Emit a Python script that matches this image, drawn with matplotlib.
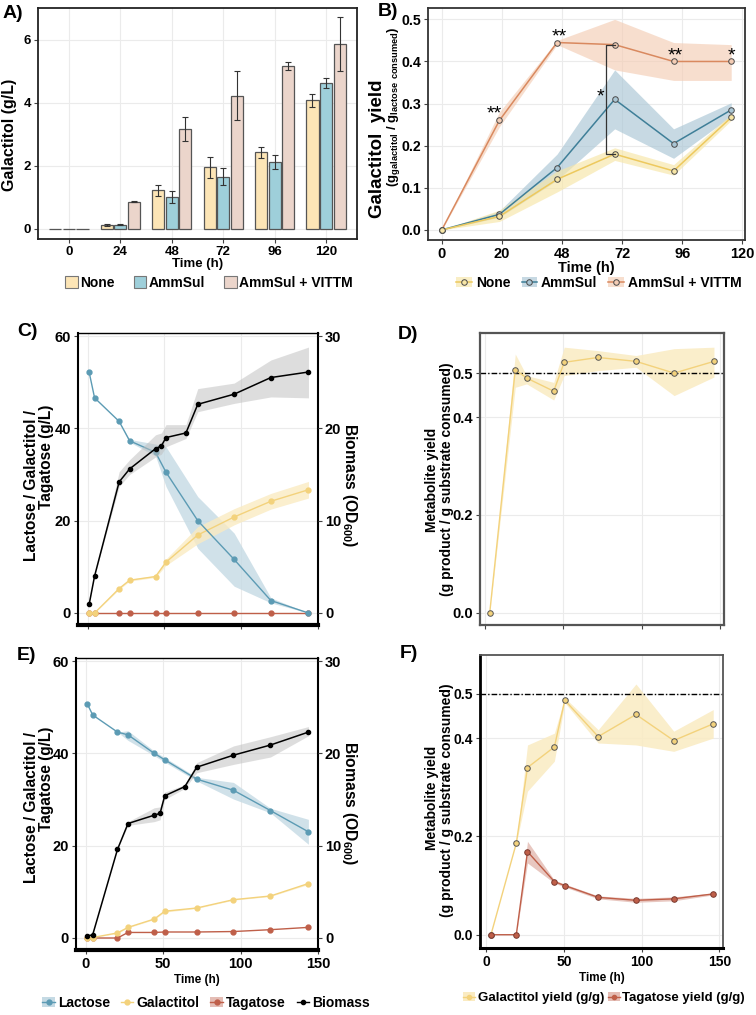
import numpy as np
import matplotlib
matplotlib.use("Agg")
import matplotlib.pyplot as plt
from matplotlib.patches import Patch
from matplotlib.lines import Line2D

plt.rcParams["font.family"] = ["Liberation Sans", "DejaVu Sans"]
plt.rcParams["font.weight"] = "bold"
plt.rcParams["axes.labelweight"] = "bold"
plt.rcParams["mathtext.fontset"] = "custom"
plt.rcParams["mathtext.rm"] = "Liberation Sans:bold"
plt.rcParams["mathtext.default"] = "rm"

# ---------------- data ----------------
# A) galactitol titre per condition
a_times = ["0", "24", "48", "72", "96", "120"]
a_none = [0, 0.12, 1.21, 1.94, 2.42, 4.07]
a_none_err = [0, 0.04, 0.16, 0.32, 0.17, 0.20]
a_amm = [0, 0.13, 1.00, 1.65, 2.11, 4.63]
a_amm_err = [0, 0.03, 0.20, 0.26, 0.22, 0.16]
a_vit = [0, 0.85, 3.17, 4.22, 5.15, 5.85]
a_vit_err = [0, 0.02, 0.38, 0.78, 0.13, 0.85]

# B) galactitol yield
b_time = [0, 23, 46, 69, 92.5, 115.5]
b_tick_pos = [0, 24, 48, 72, 96, 120]
b_tick_lab = ["0", "20", "48", "72", "96", "120"]
b_none = [0, 0.032, 0.120, 0.180, 0.140, 0.267]
b_none_lo = [0, 0.020, 0.090, 0.165, 0.130, 0.260]
b_none_hi = [0, 0.047, 0.140, 0.195, 0.155, 0.275]
b_amm = [0, 0.037, 0.148, 0.310, 0.205, 0.285]
b_amm_lo = [0, 0.030, 0.118, 0.240, 0.170, 0.270]
b_amm_hi = [0, 0.045, 0.180, 0.380, 0.240, 0.302]
b_vit = [0, 0.260, 0.445, 0.440, 0.400, 0.400]
b_vit_lo = [0, 0.245, 0.440, 0.380, 0.355, 0.355]
b_vit_hi = [0, 0.280, 0.450, 0.500, 0.445, 0.440]

# C / E) fermentation profiles
met_time = [1, 4.5, 20.5, 27.3, 44.2, 51, 71.7, 95.4, 119.3, 143.8]
bio_time = [1, 4.5, 20.5, 27.3, 44.2, 48, 51, 64, 71.7, 95.4, 119.3, 143.8]

c_lac = [52.1, 46.6, 41.5, 37.3, 34.8, 30.5, 20.0, 11.6, 2.7, 0.0]
c_lac_lo = [52.1, 46.6, 41.5, 37.0, 34.0, 27.4, 14.0, 5.8, 2.2, 0.0]
c_lac_hi = [52.1, 46.6, 41.5, 37.6, 36.6, 36.0, 25.2, 17.3, 3.3, 0.0]
c_gal = [0, 0, 5.3, 7.1, 7.9, 11.0, 16.9, 20.8, 24.2, 26.7]
c_gal_lo = [0, 0, 5.1, 6.9, 7.7, 10.3, 15.0, 19.1, 22.5, 24.9]
c_gal_hi = [0, 0, 5.5, 7.3, 8.1, 11.7, 18.7, 22.6, 25.9, 28.5]
c_tag = [0, 0, 0, 0, 0, 0, 0, 0, 0, 0]
c_bio = [0.97, 4.0, 14.2, 15.6, 17.8, 18.1, 19.0, 19.5, 22.6, 23.7, 25.5, 26.1]
c_bio_lo = [0.97, 4.0, 13.7, 15.0, 16.9, 17.2, 18.0, 18.9, 21.8, 22.7, 23.4, 23.3]
c_bio_hi = [0.97, 4.0, 15.3, 16.6, 19.3, 19.5, 20.4, 20.4, 24.3, 24.9, 27.4, 28.8]

e_lac = [50.7, 48.3, 44.6, 44.0, 40.0, 38.6, 34.4, 32.0, 27.6, 23.0]
e_lac_lo = [50.7, 48.3, 44.6, 42.8, 39.5, 38.1, 34.0, 30.1, 27.1, 20.3]
e_lac_hi = [50.7, 48.3, 44.6, 44.9, 40.5, 39.1, 34.8, 33.7, 28.1, 25.7]
e_gal = [0, 0.1, 1.1, 2.3, 4.1, 5.8, 6.5, 8.3, 9.1, 11.8]
e_gal_lo = [0, 0.1, 1.0, 2.2, 4.0, 5.6, 6.4, 8.2, 9.0, 11.6]
e_gal_hi = [0, 0.1, 1.2, 2.4, 4.2, 6.0, 6.6, 8.4, 9.2, 12.0]
e_tag = [0, 0, 0, 1.2, 1.2, 1.3, 1.3, 1.4, 1.8, 2.3]
e_bio = [0.2, 0.36, 9.6, 12.4, 13.3, 13.5, 15.4, 16.4, 18.5, 19.8, 20.9, 22.3]
e_bio_lo = [0.2, 0.36, 9.6, 12.2, 12.6, 12.8, 15.0, 16.2, 17.9, 18.8, 19.6, 21.9]
e_bio_hi = [0.2, 0.36, 9.6, 12.6, 14.1, 14.2, 15.8, 16.6, 19.0, 20.8, 21.8, 22.9]

# D / F) metabolite yields
y_time = [3, 19.3, 26.5, 43.8, 50.5, 72, 96.3, 120.6, 146]
d_gal = [0, 0.497, 0.480, 0.453, 0.512, 0.522, 0.514, 0.490, 0.514]
d_gal_lo = [0, 0.461, 0.468, 0.435, 0.485, 0.495, 0.502, 0.444, 0.482]
d_gal_hi = [0, 0.529, 0.485, 0.471, 0.543, 0.536, 0.526, 0.540, 0.543]
f_gal = [0, 0.186, 0.340, 0.382, 0.477, 0.403, 0.448, 0.395, 0.429]
f_gal_lo = [0, 0.186, 0.292, 0.353, 0.472, 0.390, 0.386, 0.373, 0.400]
f_gal_hi = [0, 0.186, 0.386, 0.410, 0.482, 0.417, 0.510, 0.414, 0.458]
f_tag = [0, 0, 0.169, 0.108, 0.100, 0.076, 0.070, 0.073, 0.083]
f_tag_lo = [0, 0, 0.146, 0.105, 0.097, 0.073, 0.066, 0.069, 0.081]
f_tag_hi = [0, 0, 0.190, 0.111, 0.103, 0.079, 0.074, 0.077, 0.085]
max_yield = 0.49

# colours
YEL_BAR, BLU_BAR, PNK_BAR = "#FCE5B6", "#9ECFDA", "#EBD5CB"
YEL, YEL_BAND = "#EDC95E", "#F7E6A6"
BLU, BLU_BAND = "#3F7F98", "#A9C6D5"
ORA, ORA_BAND = "#D9895F", "#F4CDB5"
LAC, LAC_BAND = "#5C9BB4", "#C5DAE4"
GAL, GAL_BAND = "#F3D27C", "#FAEBC2"
TAG, TAG_BAND = "#BF5F49", "#E4BDB5"
GRID = "#EBEBEB"

W, H = 756, 1015
fig = plt.figure(figsize=(W / 100, H / 100), dpi=100)


def box(x0, y0, x1, y1):
    return fig.add_axes([x0 / W, 1 - y1 / H, (x1 - x0) / W, (y1 - y0) / H])


def style(ax, col="#333333", lw=1.2, size=10):
    ax.set_facecolor("white")
    ax.grid(True, color=GRID, lw=0.8)
    ax.set_axisbelow(True)
    for s in ax.spines.values():
        s.set_color(col)
        s.set_linewidth(lw)
    ax.tick_params(length=3, width=0.8, color="#444444", labelsize=size, pad=2)


def ftext(x, y, s, **kw):
    fig.text(x / W, 1 - y / H, s, **kw)


# ---------------- A ----------------
axA = box(38, 8, 357, 239)
style(axA, col="#222222", lw=1.3, size=9.5)
x = np.arange(len(a_times))
groups = [(a_none, a_none_err, YEL_BAR), (a_amm, a_amm_err, BLU_BAR), (a_vit, a_vit_err, PNK_BAR)]
for i, (vals, errs, col) in enumerate(groups):
    pos = x + (i - 1) * 0.265
    axA.bar(pos, vals, 0.235, color=col, edgecolor="#555555", linewidth=0.9, zorder=2)
    keep = np.array(errs) > 0
    axA.errorbar(pos[keep], np.array(vals)[keep], yerr=np.array(errs)[keep], fmt="none",
                 ecolor="#333333", elinewidth=0.8, capsize=2.5, capthick=0.8, zorder=3)
axA.set_xticks(x)
axA.set_xticklabels(a_times)
axA.set_yticks([0, 2, 4, 6])
axA.set_xlim(-0.6, 5.6)
axA.set_ylim(-0.33, 7.0)
axA.set_ylabel("Galactitol (g/L)", fontsize=11.5)
axA.yaxis.set_label_coords(-0.066, 0.45)
axA.set_xlabel("Time (h)", fontsize=9.5, labelpad=0)
fig.legend([Patch(fc=c, ec="#777777", lw=0.8) for c in (YEL_BAR, BLU_BAR, PNK_BAR)],
           ["None", "AmmSul", "AmmSul + VITTM"], loc="center",
           bbox_to_anchor=(209 / W, 1 - 283 / H), ncol=3, frameon=False, fontsize=10,
           handlelength=0.9, handleheight=0.9, handletextpad=0.15, columnspacing=1.4)

# ---------------- B ----------------
axB = box(428, 8, 745, 240)
style(axB, col="#333333", lw=1.3, size=10.5)
axB.tick_params(axis="y", labelsize=10.2, pad=1.5)
series_b = [(b_vit, b_vit_lo, b_vit_hi, ORA, ORA_BAND),
            (b_amm, b_amm_lo, b_amm_hi, BLU, BLU_BAND),
            (b_none, b_none_lo, b_none_hi, YEL, YEL_BAND)]
for vals, lo, hi, lc, bc in series_b:
    axB.fill_between(b_time, lo, hi, color=bc, alpha=0.65, lw=0, zorder=1)
for vals, lo, hi, lc, bc in series_b:
    axB.plot(b_time, vals, color=lc, lw=1.1, marker="o", ms=4, mfc=bc, mec="#4a4a4a", mew=0.7, zorder=3)
axB.plot([69, 65.7, 65.7, 69], [0.44, 0.44, 0.18, 0.18], color="#333333", lw=0.9, zorder=4)
stars = [(20.8, 0.276, "**"), (47, 0.458, "**"), (63.5, 0.316, "*"), (93, 0.414, "**"), (115.7, 0.414, "*")]
for sx, sy, s in stars:
    axB.text(sx, sy, s, ha="center", va="center", fontsize=14, fontweight="normal")
axB.set_xticks(b_tick_pos)
axB.set_xticklabels(b_tick_lab)
axB.set_yticks(np.arange(0, 0.51, 0.1))
axB.set_yticklabels(["%.1f" % v for v in np.arange(0, 0.51, 0.1)])
axB.set_xlim(-5.5, 121)
axB.set_ylim(-0.024, 0.527)
axB.set_xlabel("Time (h)", fontsize=10.5, labelpad=0)
ftext(386, 149, "Galactitol  yield", rotation=90, ha="right", va="center", fontsize=13.5)
ftext(402, 107, r"(g$_{galactitol}$ / g$_{lactose\ consumed}$)", rotation=90,
      ha="right", va="center", fontsize=9.5)
hb = [(Patch(fc=bc, alpha=0.65, lw=0), Line2D([], [], color=lc, lw=1.1, marker="o", ms=4, mfc=bc, mec="#4a4a4a", mew=0.7))
      for vals, lo, hi, lc, bc in series_b[::-1]]
fig.legend(hb, ["None", "AmmSul", "AmmSul + VITTM"], loc="center",
           bbox_to_anchor=(599 / W, 1 - 283 / H), ncol=3, frameon=False, fontsize=10,
           handlelength=1.1, handletextpad=0.3, columnspacing=0.8, borderpad=0.1)


# ---------------- C / E ----------------
def profile(ax, lac, lac_lo, lac_hi, gal, gal_lo, gal_hi, tag, bio, bio_lo, bio_hi):
    style(ax, col="black", lw=1.5, size=10.5)
    ax.spines["bottom"].set_linewidth(3)
    ax.spines["top"].set_linewidth(1.0)
    ax.fill_between(met_time, lac_lo, lac_hi, color=LAC_BAND, alpha=0.8, lw=0, zorder=1)
    ax.fill_between(met_time, gal_lo, gal_hi, color=GAL_BAND, alpha=0.8, lw=0, zorder=1)
    ax.plot(met_time, tag, color=TAG, lw=1.0, marker="o", ms=3.5, zorder=3)
    ax.plot(met_time, gal, color=GAL, lw=1.0, marker="o", ms=3.5, zorder=3)
    ax.plot(met_time, lac, color=LAC, lw=1.0, marker="o", ms=3.5, zorder=3)
    ax.set_xlim(-6.3, 149)
    ax.set_ylim(-2.6, 60.65)
    ax.set_xticks([0, 50, 100, 150])
    ax.set_yticks([0, 20, 40, 60])
    tw = ax.twinx()
    tw.fill_between(bio_time, bio_lo, bio_hi, color="#BDBDBD", alpha=0.5, lw=0, zorder=1)
    tw.plot(bio_time, bio, color="black", lw=1.1, marker="o", ms=3, zorder=3)
    tw.set_ylim(-1.3, 30.325)
    tw.set_yticks([0, 10, 20, 30])
    for s in tw.spines.values():
        s.set_visible(False)
    tw.tick_params(length=3, width=0.8, color="#444444", labelsize=10.5, pad=2)
    return tw


def profile_labels(top, mid):
    ftext(32, top, "Lactose / Galactitol /", rotation=90, ha="center", va="top", fontsize=11.2)
    ftext(47, top - 5, "Tagatose (g/L)", rotation=90, ha="center", va="top", fontsize=11.2)
    ftext(350, mid, r"Biomass (OD$_{600}$)", rotation=-90, ha="center", va="center", fontsize=11.3)


axC = box(78, 333, 318, 625)
profile(axC, c_lac, c_lac_lo, c_lac_hi, c_gal, c_gal_lo, c_gal_hi, c_tag, c_bio, c_bio_lo, c_bio_hi)
axC.set_xticklabels([])
profile_labels(410, 485)

axE = box(76, 658, 318, 950)
profile(axE, e_lac, e_lac_lo, e_lac_hi, e_gal, e_gal_lo, e_gal_hi, e_tag, e_bio, e_bio_lo, e_bio_hi)
axE.set_xlabel("Time (h)", fontsize=8.5, labelpad=2)
profile_labels(732, 803)

he = [(Patch(fc=LAC_BAND, lw=0), Line2D([], [], color=LAC, lw=1, marker="o", ms=3.5)),
      (Patch(fc="white", lw=0), Line2D([], [], color=GAL, lw=1, marker="o", ms=3.5)),
      (Patch(fc=TAG_BAND, lw=0), Line2D([], [], color=TAG, lw=1, marker="o", ms=3.5)),
      Line2D([], [], color="black", lw=1, marker="o", ms=3)]
fig.legend(he, ["Lactose", "Galactitol", "Tagatose", "Biomass"], loc="center",
           bbox_to_anchor=(206 / W, 1 - 1003 / H), ncol=4, frameon=False, fontsize=10,
           handlelength=0.9, handletextpad=0.2, columnspacing=0.8)


# ---------------- D / F ----------------
def yields(ax):
    ax.axhline(max_yield, color="black", lw=1.0, ls=(0, (4, 1.5, 1, 1.5)), zorder=2)
    ax.set_yticks([0, 0.2, 0.4, max_yield])
    ax.set_yticklabels(["0.0", "0.2", "0.4", "0.5"])
    ax.set_xticks([0, 50, 100, 150])


axD = box(480, 333, 724, 625)
style(axD, col="#555555", lw=1.6, size=10.5)
axD.fill_between(y_time, d_gal_lo, d_gal_hi, color=GAL_BAND, alpha=0.85, lw=0, zorder=1)
axD.plot(y_time, d_gal, color=GAL, lw=1.0, marker="o", ms=4, mfc=GAL, mec="#555555", mew=0.7, zorder=3)
yields(axD)
axD.set_xticklabels([])
axD.set_xlim(-3.2, 152.4)
axD.set_ylim(-0.025, 0.572)
ftext(432, 480, "Metabolite yield", rotation=90, ha="center", va="center", fontsize=10)
ftext(447, 479, "(g product / g substrate consumed)", rotation=90, ha="center", va="center", fontsize=10)

axF = box(480, 655, 723, 948)
style(axF, col="#555555", lw=1.3, size=10)
axF.spines["left"].set_color("black")
axF.spines["left"].set_linewidth(2)
axF.spines["bottom"].set_color("black")
axF.spines["bottom"].set_linewidth(2.2)
axF.fill_between(y_time, f_gal_lo, f_gal_hi, color=GAL_BAND, alpha=0.85, lw=0, zorder=1)
axF.fill_between(y_time, f_tag_lo, f_tag_hi, color=TAG_BAND, alpha=0.85, lw=0, zorder=1)
axF.plot(y_time, f_gal, color=GAL, lw=1.0, marker="o", ms=4, mfc=GAL, mec="#555555", mew=0.7, zorder=3)
axF.plot(y_time, f_tag, color=TAG, lw=1.0, marker="o", ms=4, mfc=TAG, mec="#7a3a30", mew=0.7, zorder=3)
yields(axF)
axF.set_xlim(-4.05, 152.3)
axF.set_ylim(-0.027, 0.569)
axF.set_xlabel("Time (h)", fontsize=8.5, labelpad=2)
ftext(432, 798, "Metabolite yield", rotation=90, ha="center", va="center", fontsize=10)
ftext(447, 800, "(g product / g substrate consumed)", rotation=90, ha="center", va="center", fontsize=10)
hf = [(Patch(fc=GAL_BAND, lw=0), Line2D([], [], color=GAL, lw=1, marker="o", ms=3)),
      (Patch(fc=TAG_BAND, lw=0), Line2D([], [], color=TAG, lw=1, marker="o", ms=3))]
fig.legend(hf, ["Galactitol yield (g/g)", "Tagatose yield (g/g)"], loc="center",
           bbox_to_anchor=(604 / W, 1 - 998 / H), ncol=2, frameon=False, fontsize=9.5,
           handlelength=0.9, handletextpad=0.2, columnspacing=0.3)

# panel letters
for lab, lx, ly in [("A)", 3, 13), ("B)", 378, 12), ("C)", 17, 332), ("D)", 398, 335), ("E)", 17, 655), ("F)", 400, 654)]:
    ftext(lx, ly, lab, fontsize=14, va="center", ha="left")

fig.savefig("out.png", dpi=100, facecolor="white")
